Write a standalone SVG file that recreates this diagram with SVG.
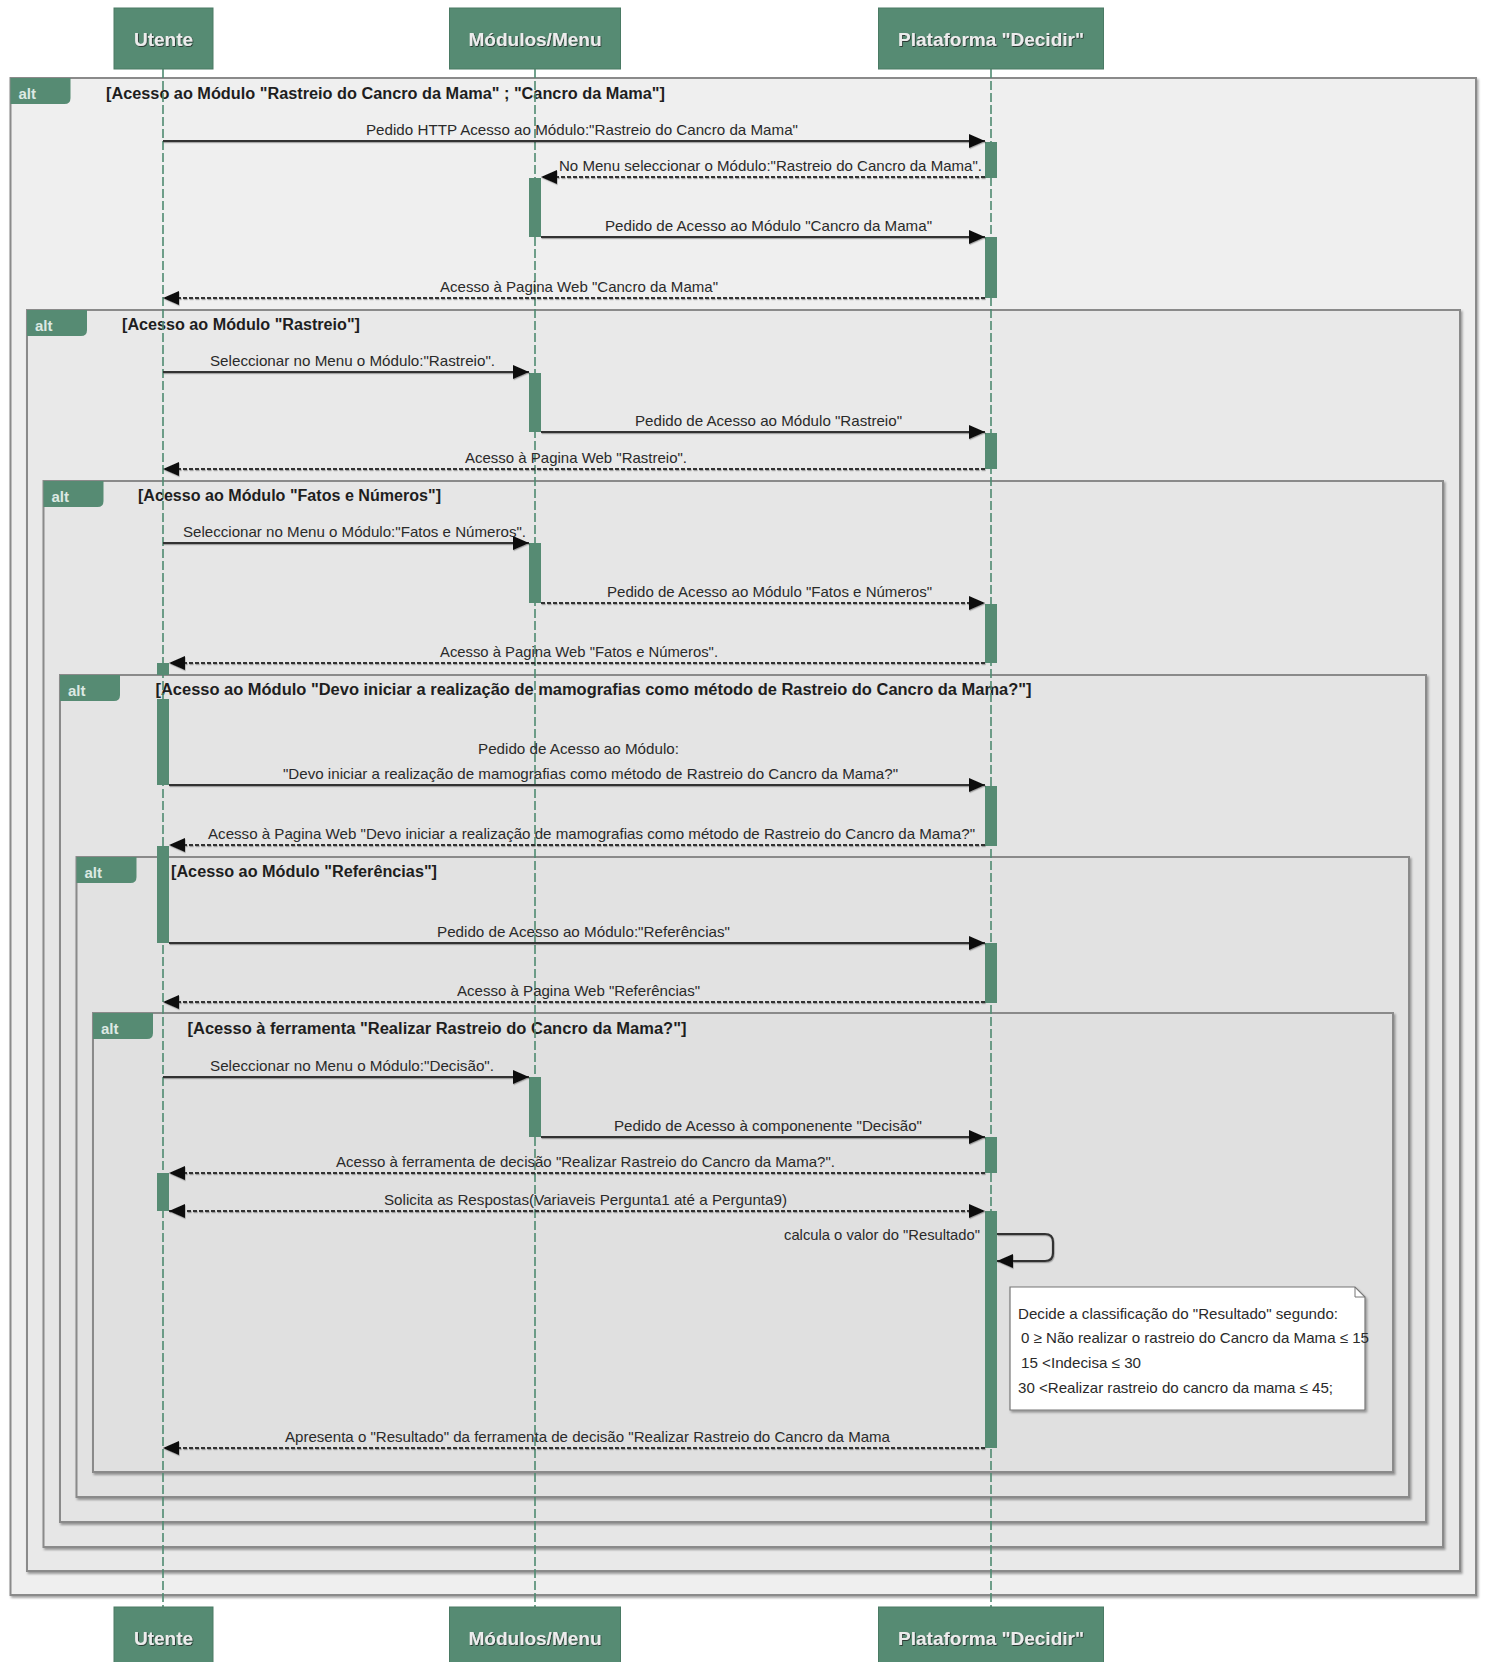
<svg xmlns="http://www.w3.org/2000/svg" width="1485" height="1662" viewBox="0 0 1485 1662">
  <style>
    .box{fill:#568b73;stroke:#4a7a64;stroke-width:1}
    .pname{font-family:"Liberation Sans",Arial,sans-serif;font-weight:bold;font-size:19px;fill:#ececec;text-anchor:middle;filter:url(#ts)}
    .life{stroke:#4f8a71;stroke-width:1.6;stroke-dasharray:9 3;fill:none}
    .act{fill:#568b73}
    .frame{stroke:#8a8a8a;stroke-width:2;filter:url(#sh)}
    .tab{fill:#568b73}
    .altl{font-family:"Liberation Sans",Arial,sans-serif;font-weight:bold;font-size:15px;fill:#dde9e3}
    .guard{font-family:"Liberation Sans",Arial,sans-serif;font-weight:bold;font-size:16px;fill:#1e1e1e}
    .msg{stroke:#333;stroke-width:2.2;fill:none;marker-end:url(#ah)}
    .ret{stroke-dasharray:4 2}
    .lbl{font-family:"Liberation Sans",Arial,sans-serif;font-size:15px;fill:#2a2a2a}
    .note{fill:#fff;stroke:#777;stroke-width:1.2;filter:url(#sh)}
  </style>
  <defs>
    <filter id="sh" x="-5%" y="-5%" width="110%" height="110%">
      <feDropShadow dx="1.5" dy="2" stdDeviation="1" flood-color="#000" flood-opacity="0.35"/>
    </filter>
    <filter id="ts" x="-10%" y="-20%" width="120%" height="140%">
      <feDropShadow dx="0.8" dy="0.8" stdDeviation="0.6" flood-color="#1a1a1a" flood-opacity="0.9"/>
    </filter>
    <filter id="ls" x="-2%" y="-50%" width="104%" height="200%">
      <feDropShadow dx="0.6" dy="1.2" stdDeviation="0.6" flood-color="#000" flood-opacity="0.3"/>
    </filter>
    <marker id="ah" viewBox="0 0 16 14" refX="16" refY="7" markerWidth="16" markerHeight="14" markerUnits="userSpaceOnUse" orient="auto-start-reverse">
      <path d="M0,0 L16,7 L0,14 z" fill="#111"/>
    </marker>
  </defs>

  <rect width="1485" height="1662" fill="#fff"/>

  <!-- combined fragments (alt), outer to inner -->
  <g id="fragments">
    <g id="alt-cancro-mama">
      <rect class="frame" x="10.5" y="78" width="1465.5" height="1517" fill="#efefef"/>
      <path class="tab" d="M10.5,78 H70.5 V98 Q70.5,104 64.5,104 H10.5 Z"/>
      <text class="altl" x="18.5" y="99">alt</text>
      <text class="guard" x="106" y="99" textLength="559" lengthAdjust="spacingAndGlyphs">[Acesso ao Módulo "Rastreio do Cancro da Mama" ; "Cancro da Mama"]</text>
    </g>
    <g id="alt-rastreio">
      <rect class="frame" x="27" y="310" width="1433" height="1261" fill="#e9e9e9"/>
      <path class="tab" d="M27,310 H87 V330 Q87,336 81,336 H27 Z"/>
      <text class="altl" x="35" y="331">alt</text>
      <text class="guard" x="122" y="330" textLength="238" lengthAdjust="spacingAndGlyphs">[Acesso ao Módulo "Rastreio"]</text>
    </g>
    <g id="alt-fatos">
      <rect class="frame" x="43.5" y="481" width="1399.5" height="1066" fill="#e6e6e6"/>
      <path class="tab" d="M43.5,481 H103.5 V501 Q103.5,507 97.5,507 H43.5 Z"/>
      <text class="altl" x="51.5" y="502">alt</text>
      <text class="guard" x="138" y="501" textLength="303" lengthAdjust="spacingAndGlyphs">[Acesso ao Módulo "Fatos e Números"]</text>
    </g>
    <g id="alt-mamografias">
      <rect class="frame" x="60" y="675" width="1366" height="847" fill="#e4e4e4"/>
      <path class="tab" d="M60,675 H120 V695 Q120,701 114,701 H60 Z"/>
      <text class="altl" x="68" y="696">alt</text>
      <text class="guard" x="155.5" y="695" textLength="876" lengthAdjust="spacingAndGlyphs">[Acesso ao Módulo "Devo iniciar a realização de mamografias como método de Rastreio do Cancro da Mama?"]</text>
    </g>
    <g id="alt-referencias">
      <rect class="frame" x="76.5" y="857" width="1332.5" height="640" fill="#e2e2e2"/>
      <path class="tab" d="M76.5,857 H136.5 V877 Q136.5,883 130.5,883 H76.5 Z"/>
      <text class="altl" x="84.5" y="878">alt</text>
      <text class="guard" x="171" y="877" textLength="266" lengthAdjust="spacingAndGlyphs">[Acesso ao Módulo "Referências"]</text>
    </g>
    <g id="alt-ferramenta">
      <rect class="frame" x="93" y="1013" width="1300" height="459" fill="#e0e0e0"/>
      <path class="tab" d="M93,1013 H153 V1033 Q153,1039 147,1039 H93 Z"/>
      <text class="altl" x="101" y="1034">alt</text>
      <text class="guard" x="187.5" y="1034" textLength="499" lengthAdjust="spacingAndGlyphs">[Acesso à ferramenta "Realizar Rastreio do Cancro da Mama?"]</text>
    </g>
  </g>

  <!-- participants: head box, lifeline, activations, foot box -->
  <g id="utente">
    <line class="life" x1="163" y1="69" x2="163" y2="1607"/>
    <rect class="act" x="157" y="663" width="12" height="12"/>
    <rect class="act" x="157" y="699" width="12" height="86"/>
    <rect class="act" x="157" y="846" width="12" height="97"/>
    <rect class="act" x="157" y="1173" width="12" height="38"/>
    <rect class="box" x="114" y="8" width="99" height="61"/>
    <text class="pname" x="163.5" y="45.5">Utente</text>
    <rect class="box" x="114" y="1607" width="99" height="61"/>
    <text class="pname" x="163.5" y="1644.5">Utente</text>
  </g>
  <g id="modulos-menu">
    <line class="life" x1="535" y1="69" x2="535" y2="1607"/>
    <rect class="act" x="529" y="178" width="12" height="59"/>
    <rect class="act" x="529" y="373" width="12" height="59"/>
    <rect class="act" x="529" y="543" width="12" height="60"/>
    <rect class="act" x="529" y="1077" width="12" height="60"/>
    <rect class="box" x="449.5" y="8" width="171" height="61"/>
    <text class="pname" x="535" y="45.5">Módulos/Menu</text>
    <rect class="box" x="449.5" y="1607" width="171" height="61"/>
    <text class="pname" x="535" y="1644.5">Módulos/Menu</text>
  </g>
  <g id="plataforma-decidir">
    <line class="life" x1="991" y1="69" x2="991" y2="1607"/>
    <rect class="act" x="985" y="142" width="12" height="36"/>
    <rect class="act" x="985" y="237" width="12" height="61"/>
    <rect class="act" x="985" y="433" width="12" height="36"/>
    <rect class="act" x="985" y="604" width="12" height="59"/>
    <rect class="act" x="985" y="786" width="12" height="60"/>
    <rect class="act" x="985" y="943" width="12" height="60"/>
    <rect class="act" x="985" y="1137" width="12" height="36"/>
    <rect class="act" x="985" y="1211" width="12" height="237"/>
    <rect class="box" x="878.5" y="8" width="225" height="61"/>
    <text class="pname" x="991" y="45.5">Plataforma "Decidir"</text>
    <rect class="box" x="878.5" y="1607" width="225" height="61"/>
    <text class="pname" x="991" y="1644.5">Plataforma "Decidir"</text>
  </g>

  <!-- messages -->
  <g id="connectors">
    <g filter="url(#ls)">
      <path class="msg" d="M163,141 H985"/>
      <path class="msg ret" d="M985,177 H541"/>
      <path class="msg" d="M541,237 H985"/>
      <path class="msg ret" d="M985,298 H163"/>
      <path class="msg" d="M163,372 H529"/>
      <path class="msg" d="M541,432 H985"/>
      <path class="msg ret" d="M985,469 H163"/>
      <path class="msg" d="M163,543 H529"/>
      <path class="msg ret" d="M541,603 H985"/>
      <path class="msg ret" d="M985,663 H169"/>
      <path class="msg" d="M169,785 H985"/>
      <path class="msg ret" d="M985,845 H169"/>
      <path class="msg" d="M169,943 H985"/>
      <path class="msg ret" d="M985,1002 H163"/>
      <path class="msg" d="M163,1077 H529"/>
      <path class="msg" d="M541,1137 H985"/>
      <path class="msg ret" d="M985,1173 H169"/>
      <path class="msg ret" d="M169,1211 H985" marker-start="url(#ah)"/>
      <path class="msg" d="M997,1234 H1045 Q1053,1234 1053,1242 V1253 Q1053,1261 1045,1261 H997"/>
      <path class="msg ret" d="M985,1448 H163"/>
    </g>
    <text class="lbl" x="366" y="135" textLength="432" lengthAdjust="spacingAndGlyphs">Pedido HTTP Acesso ao Módulo:"Rastreio do Cancro da Mama"</text>
    <text class="lbl" x="559" y="171" textLength="423" lengthAdjust="spacingAndGlyphs">No Menu seleccionar o Módulo:"Rastreio do Cancro da Mama".</text>
    <text class="lbl" x="605" y="231" textLength="327" lengthAdjust="spacingAndGlyphs">Pedido de Acesso ao Módulo "Cancro da Mama"</text>
    <text class="lbl" x="440" y="292" textLength="278" lengthAdjust="spacingAndGlyphs">Acesso à Pagina Web "Cancro da Mama"</text>
    <text class="lbl" x="210" y="366" textLength="285" lengthAdjust="spacingAndGlyphs">Seleccionar no Menu o Módulo:"Rastreio".</text>
    <text class="lbl" x="635" y="426" textLength="267" lengthAdjust="spacingAndGlyphs">Pedido de Acesso ao Módulo "Rastreio"</text>
    <text class="lbl" x="465" y="463" textLength="222" lengthAdjust="spacingAndGlyphs">Acesso à Pagina Web "Rastreio".</text>
    <text class="lbl" x="183" y="537" textLength="343" lengthAdjust="spacingAndGlyphs">Seleccionar no Menu o Módulo:"Fatos e Números".</text>
    <text class="lbl" x="607" y="597" textLength="325" lengthAdjust="spacingAndGlyphs">Pedido de Acesso ao Módulo "Fatos e Números"</text>
    <text class="lbl" x="440" y="657" textLength="278" lengthAdjust="spacingAndGlyphs">Acesso à Pagina Web "Fatos e Números".</text>
    <text class="lbl" x="478" y="754" textLength="201" lengthAdjust="spacingAndGlyphs">Pedido de Acesso ao Módulo:</text>
    <text class="lbl" x="283" y="779" textLength="615" lengthAdjust="spacingAndGlyphs">"Devo iniciar a realização de mamografias como método de Rastreio do Cancro da Mama?"</text>
    <text class="lbl" x="208" y="839" textLength="767" lengthAdjust="spacingAndGlyphs">Acesso à Pagina Web "Devo iniciar a realização de mamografias como método de Rastreio do Cancro da Mama?"</text>
    <text class="lbl" x="437" y="937" textLength="293" lengthAdjust="spacingAndGlyphs">Pedido de Acesso ao Módulo:"Referências"</text>
    <text class="lbl" x="457" y="996" textLength="243" lengthAdjust="spacingAndGlyphs">Acesso à Pagina Web "Referências"</text>
    <text class="lbl" x="210" y="1071" textLength="284" lengthAdjust="spacingAndGlyphs">Seleccionar no Menu o Módulo:"Decisão".</text>
    <text class="lbl" x="614" y="1131" textLength="308" lengthAdjust="spacingAndGlyphs">Pedido de Acesso à componenente "Decisão"</text>
    <text class="lbl" x="336" y="1167" textLength="499" lengthAdjust="spacingAndGlyphs">Acesso à ferramenta de decisão "Realizar Rastreio do Cancro da Mama?".</text>
    <text class="lbl" x="384" y="1205" textLength="403" lengthAdjust="spacingAndGlyphs">Solicita as Respostas(Variaveis Pergunta1 até a Pergunta9)</text>
    <text class="lbl" x="784" y="1240" textLength="196" lengthAdjust="spacingAndGlyphs">calcula o valor do "Resultado"</text>
    <text class="lbl" x="285" y="1442" textLength="605" lengthAdjust="spacingAndGlyphs">Apresenta o "Resultado" da ferramenta de decisão "Realizar Rastreio do Cancro da Mama</text>
  </g>

  <!-- note attached to the decision platform -->
  <g id="note-resultado">
    <path class="note" d="M1010,1287 H1355 L1365,1297 V1410 H1010 Z"/>
    <path d="M1355,1287 V1297 H1365" fill="none" stroke="#777" stroke-width="1"/>
    <text class="lbl" x="1018" y="1319" textLength="320" lengthAdjust="spacingAndGlyphs">Decide a classificação do "Resultado" segundo:</text>
    <text class="lbl" x="1021" y="1343" textLength="348" lengthAdjust="spacingAndGlyphs">0 ≥ Não realizar o rastreio do Cancro da Mama ≤ 15</text>
    <text class="lbl" x="1021" y="1368" textLength="120" lengthAdjust="spacingAndGlyphs">15 &lt;Indecisa ≤ 30</text>
    <text class="lbl" x="1018" y="1393" textLength="315" lengthAdjust="spacingAndGlyphs">30 &lt;Realizar rastreio do cancro da mama ≤ 45;</text>
  </g>
</svg>
